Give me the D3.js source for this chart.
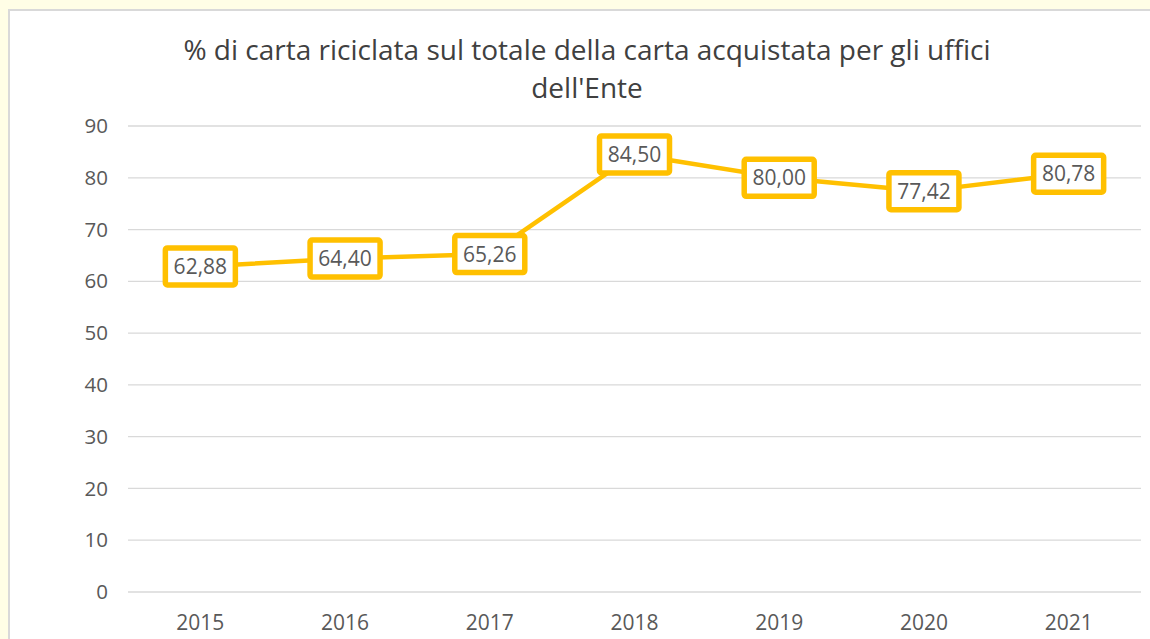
<!DOCTYPE html>
<html>
<head>
<meta charset="utf-8">
<script src="https://cdn.jsdelivr.net/npm/d3@7"></script>
<style>
  body { margin: 0; background: #fffee6; }
  svg { display: block; font-family: 'Open Sans', 'Noto Sans', sans-serif; }
</style>
</head>
<body>
<svg width="1150" height="639"></svg>
<script>
const years = ['2015', '2016', '2017', '2018', '2019', '2020', '2021'];
const values = [62.88, 64.40, 65.26, 84.50, 80.00, 77.42, 80.78];
const yTicks = [0, 10, 20, 30, 40, 50, 60, 70, 80, 90];
const titleLines = ['% di carta riciclata sul totale della carta acquistata per gli uffici', "dell'Ente"];

const svg = d3.select('svg');
const width = +svg.attr('width');
const height = +svg.attr('height');

// chart frame
svg.append('rect')
  .attr('x', 9)
  .attr('y', 10)
  .attr('width', width)
  .attr('height', height)
  .attr('fill', '#fff')
  .attr('stroke', '#d9d9d9')
  .attr('stroke-width', 2);

const x = d3.scaleBand()
  .domain(years)
  .range([128, 1141]);

const y = d3.scaleLinear()
  .domain([0, 90])
  .range([592, 126]);

svg.append('g')
  .attr('class', 'title')
  .selectAll('text')
  .data(titleLines)
  .enter()
  .append('text')
    .attr('x', 587)
    .attr('y', (d, i) => 60 + i * 38)
    .attr('text-anchor', 'middle')
    .attr('font-size', 28)
    .attr('fill', '#404040')
    .text(d => d);

const grid = svg.append('g').attr('class', 'grid');
grid.selectAll('line')
  .data(yTicks)
  .enter()
  .append('line')
    .attr('x1', 128)
    .attr('x2', 1141)
    .attr('y1', d => y(d))
    .attr('y2', d => y(d))
    .attr('stroke', '#d9d9d9')
    .attr('stroke-width', 1.3);

const yAxis = svg.append('g')
  .attr('transform', 'translate(108,0)')
  .call(d3.axisLeft(y).tickValues(yTicks).tickSize(0).tickPadding(0));
yAxis.select('.domain').remove();
yAxis.selectAll('text')
  .attr('font-size', 20.5)
  .attr('font-family', "'Open Sans', sans-serif")
  .attr('fill', '#595959');

const xAxis = svg.append('g')
  .attr('transform', 'translate(0,592)')
  .call(d3.axisBottom(x).tickSize(0).tickPadding(23));
xAxis.select('.domain').remove();
xAxis.selectAll('text')
  .attr('font-size', 21)
  .attr('font-family', "'Open Sans', sans-serif")
  .attr('fill', '#595959');

const cx = d => x(d) + x.bandwidth() / 2;

const line = d3.line()
  .x((d, i) => cx(years[i]))
  .y(d => y(d));

svg.append('path')
  .datum(values)
  .attr('d', line)
  .attr('fill', 'none')
  .attr('stroke', '#ffc000')
  .attr('stroke-width', 4.5)
  .attr('stroke-linejoin', 'round');

const labels = svg.append('g')
  .attr('class', 'labels')
  .selectAll('g')
  .data(values)
  .enter()
  .append('g')
    .attr('transform', (d, i) => `translate(${cx(years[i])},${y(d)})`);

labels.append('rect')
  .attr('x', -35)
  .attr('y', -18.5)
  .attr('width', 70)
  .attr('height', 37)
  .attr('rx', 2)
  .attr('fill', '#fff')
  .attr('stroke', '#ffc000')
  .attr('stroke-width', 5.5);

labels.append('text')
  .attr('text-anchor', 'middle')
  .attr('dy', '0.36em')
  .attr('font-size', 21)
  .attr('fill', '#595959')
  .text(d => d.toFixed(2).replace('.', ','));
</script>
</body>
</html>
